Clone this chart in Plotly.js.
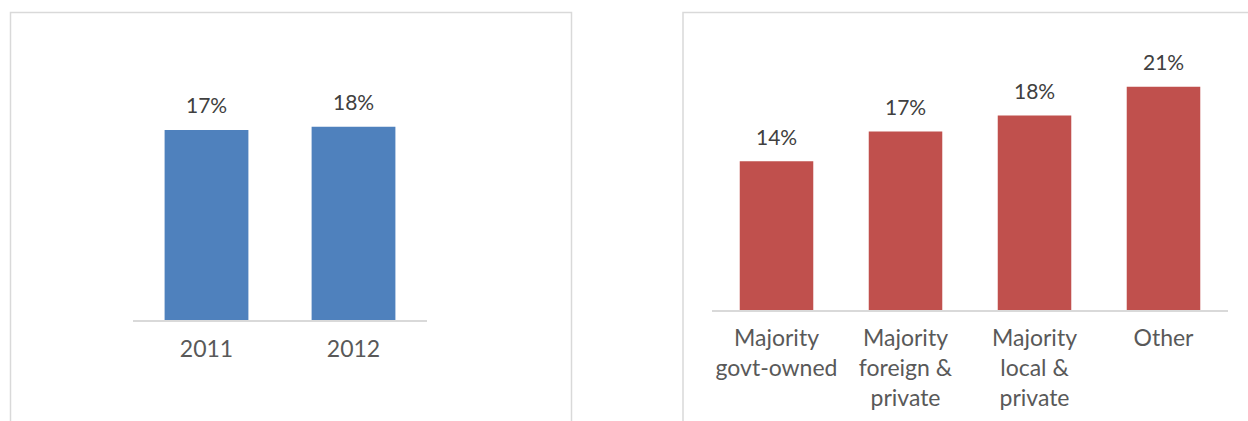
<!DOCTYPE html>
<html>
<head>
<meta charset="utf-8">
<script src="https://cdn.plot.ly/plotly-3.0.1.min.js"></script>
<style>
  html, body { margin: 0; padding: 0; background: #ffffff; }
  #chart { width: 1248px; height: 421px; }
</style>
</head>
<body>
<div id="chart"></div>
<script>
// Left panel data
const yearCategories = ["2011", "2012"];
const yearValues = [17.4, 17.7];
const yearLabels = ["17%", "18%"];

// Right panel data
const ownershipCategories = ["govt", "foreign", "local", "other"];
const ownershipTickText = ["Majority<br>govt-owned", "Majority<br>foreign &<br>private", "Majority<br>local &<br>private", "Other"];
const ownershipValues = [14.0, 16.8, 18.3, 21.0];
const ownershipLabels = ["14%", "17%", "18%", "21%"];

const W = 1248, H = 421;
const px = v => v / W;
const py = v => (H - v) / H;

const FONT = "Lato, 'Open Sans', sans-serif";
const labelColor = "#404040";
const tickColor = "#595959";

const traces = [
  {
    type: "bar", x: yearCategories, y: yearValues,
    xaxis: "x", yaxis: "y",
    marker: { color: "#4F81BD" },
    hoverinfo: "skip"
  },
  {
    type: "bar", x: ownershipCategories, y: ownershipValues,
    xaxis: "x2", yaxis: "y2",
    marker: { color: "#C0504D" },
    hoverinfo: "skip"
  }
];

// annotations on category axes use the category index
const annotations = [];
yearCategories.forEach((c, i) => annotations.push({
  xref: "x", yref: "y", x: i, y: yearValues[i], text: yearLabels[i],
  showarrow: false, yanchor: "middle", yshift: 25,
  font: { family: FONT, size: 21, color: labelColor }
}));
ownershipCategories.forEach((c, i) => annotations.push({
  xref: "x2", yref: "y2", x: i, y: ownershipValues[i], text: ownershipLabels[i],
  showarrow: false, yanchor: "middle", yshift: 25,
  font: { family: FONT, size: 21, color: labelColor }
}));

const layout = {
  width: W, height: H,
  margin: { l: 0, r: 0, t: 0, b: 0 },
  paper_bgcolor: "#ffffff", plot_bgcolor: "rgba(0,0,0,0)",
  showlegend: false,
  bargap: 0.43,
  font: { family: FONT, color: tickColor },
  xaxis: {
    type: "category",
    range: [-0.5, yearCategories.length - 0.5],
    domain: [px(133), px(427)], anchor: "y",
    showline: true, linecolor: "#d9d9d9", linewidth: 1.5,
    ticks: "", showgrid: false, zeroline: false,
    tickfont: { family: FONT, size: 23, color: tickColor },
    ticklabelstandoff: 8, fixedrange: true
  },
  yaxis: {
    domain: [py(320), py(13)], anchor: "x",
    range: [0, 28.11], visible: false, fixedrange: true
  },
  xaxis2: {
    type: "category",
    range: [-0.5, ownershipCategories.length - 0.5],
    domain: [px(712), px(1228)], anchor: "y2",
    showline: true, linecolor: "#d9d9d9", linewidth: 1.5,
    ticks: "", showgrid: false, zeroline: false,
    tickmode: "array", tickvals: ownershipCategories, ticktext: ownershipTickText,
    tickfont: { family: FONT, size: 23, color: tickColor },
    ticklabelstandoff: 7, fixedrange: true
  },
  yaxis2: {
    domain: [py(310), py(13)], anchor: "x2",
    range: [0, 27.94], visible: false, fixedrange: true
  },
  annotations: annotations,
  shapes: [
    { type: "rect", xref: "paper", yref: "paper",
      x0: px(10.5), x1: px(571.5), y0: -0.2, y1: py(12.5),
      line: { color: "#d9d9d9", width: 1.5 }, fillcolor: "rgba(0,0,0,0)", layer: "below" },
    { type: "rect", xref: "paper", yref: "paper",
      x0: px(683), x1: 1.2, y0: -0.2, y1: py(12.5),
      line: { color: "#d9d9d9", width: 1.5 }, fillcolor: "rgba(0,0,0,0)", layer: "below" }
  ]
};

Plotly.newPlot("chart", traces, layout, { staticPlot: true, displayModeBar: false });
</script>
</body>
</html>
